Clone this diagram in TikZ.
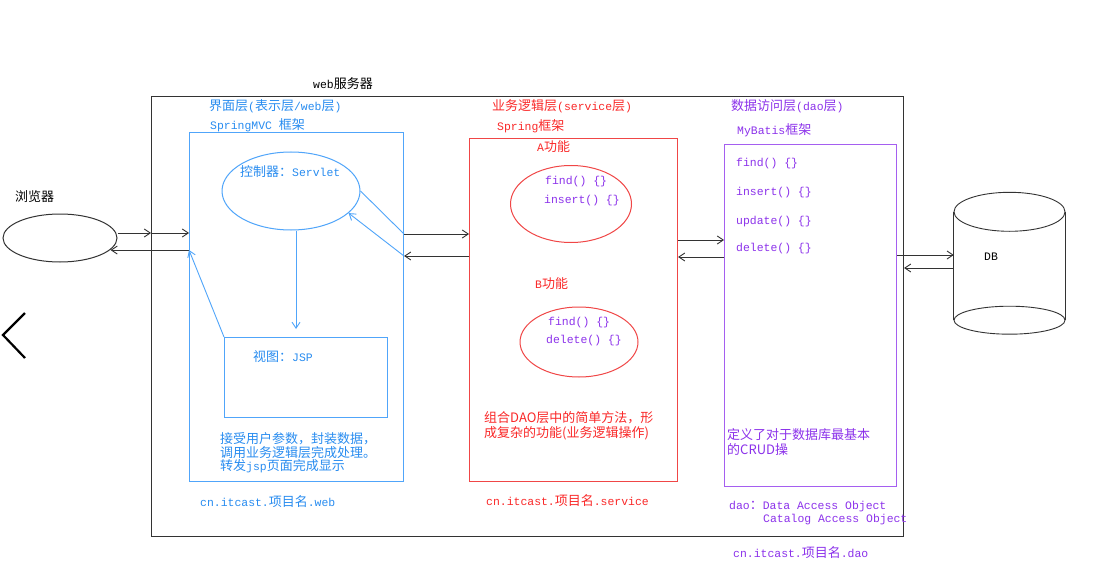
\documentclass[tikz,border=0pt]{standalone}
\usepackage{fontspec}
\setmainfont{Noto Sans CJK SC}
\newfontfamily\monof{Liberation Mono}[Scale=0.88]
\newcommand\mm[1]{{\monof #1}}
\usetikzlibrary{arrows.meta,shapes.geometric}
\definecolor{bline}{RGB}{80,165,250}
\definecolor{btext}{RGB}{40,140,240}
\definecolor{rline}{RGB}{240,70,70}
\definecolor{rtext}{RGB}{250,40,40}
\definecolor{pline}{RGB}{165,95,240}
\definecolor{ptext}{RGB}{140,50,235}
\begin{document}
\begin{tikzpicture}[x=1pt,y=-1pt,
  box/.style={draw, rectangle, inner sep=0pt, anchor=north west, line width=1pt},
  oval/.style={draw, ellipse, inner sep=0pt, line width=1pt},
  txt/.style={anchor=west, inner sep=0pt, font=\fontsize{13}{14}\selectfont, align=left},
  arr/.style={line width=0.9pt, -{Straight Barb[length=6pt,width=8pt]}},
  plain/.style={line width=0.9pt}]
\useasboundingbox (0,0) rectangle (1103,575);
\fill[white] (0,0) rectangle (1103,575);

% chevron
\draw[line width=2.2pt] (25,313) -- (3,335) -- (25,358);

% boxes
\node[box, draw=black!80, minimum width=752pt, minimum height=440pt] (outer) at (151,96) {};
\node[box, draw=bline, minimum width=214pt, minimum height=349pt] (web) at (189,132) {};
\node[box, draw=rline, minimum width=208pt, minimum height=343pt] (service) at (469,138) {};
\node[box, draw=pline, minimum width=172pt, minimum height=342pt] (dao) at (724,144) {};
\node[box, draw=bline, minimum width=163pt, minimum height=80pt] (jsp) at (224,337) {};

% ellipses
\node[oval, draw=black!80, minimum width=114pt, minimum height=48pt] (browser) at (60,238) {};
\node[oval, draw=bline, minimum width=138pt, minimum height=78pt] (servlet) at (291,191) {};
\node[oval, draw=rline, minimum width=121pt, minimum height=77pt] (funA) at (571,204) {};
\node[oval, draw=rline, minimum width=118pt, minimum height=70pt] (funB) at (579,342) {};

% database cylinder
\node[minimum width=111pt, minimum height=108pt, inner sep=0pt] (db) at (1009.5,266) {};
\draw[line width=0.9pt, black!80] (db.north) ellipse [x radius=55.5pt, y radius=19.5pt];
\draw[line width=0.9pt, black!80] (db.south) ellipse [x radius=55.5pt, y radius=14pt];
\draw[line width=0.9pt, black!80] (db.north west) -- (db.south west);
\draw[line width=0.9pt, black!80] (db.north east) -- (db.south east);

% connectors
\draw[arr, black!80] (browser.east |- 0,233) -- (outer.west |- 0,233);
\draw[arr, black!80] (outer.west |- 0,233) -- (web.west |- 0,233);
\draw[arr, black!80, shorten >=-7pt] (web.west |- 0,250) -- (browser.east |- 0,250);

\draw[plain, bline] (servlet.east) -- (web.east |- 0,234);
\draw[arr, black!80] (web.east |- 0,234) -- (service.west |- 0,234);
\draw[arr, black!80] (service.west |- 0,256) -- (web.east |- 0,256);
\draw[arr, bline] (web.east |- 0,256) -- (servlet.-21);

\draw[arr, bline, shorten >=8pt] (servlet.south -| 296,0) -- (jsp.north -| 296,0);
\draw[arr, bline] (jsp.north west) -- (web.west |- 0,250);

\draw[arr, black!80] (service.east |- 0,240) -- (dao.west |- 0,240);
\draw[arr, black!80] (dao.west |- 0,257) -- (service.east |- 0,257);

\draw[arr, black!80] (dao.east |- 0,255) -- (db.west |- 0,255);
\draw[arr, black!80] (db.west |- 0,268) -- (outer.east |- 0,268);

% black texts
\node[txt] (tserver) at (313,84) {\mm{web}服务器};
\node[txt] (tbrowser) at (15,197) {浏览器};
\node[txt] (tdb) at (984,257) {\mm{DB}};

% blue texts
\begin{scope}[every node/.append style={text=btext}]
\node[txt] (tweb1) at (209,106) {界面层\mm{(}表示层\mm{/web}层\mm{)}};
\node[txt] (tweb2) at (210,125) {\mm{SpringMVC }框架};
\node[txt] (tservlet) at (240,172) {控制器：\mm{Servlet}};
\node[txt] (tjsp) at (253,357) {视图：\mm{JSP}};
\node[txt, font=\fontsize{13}{13.5}\selectfont] (tweb3) at (220,453) {接受用户参数，封装数据，\\调用业务逻辑层完成处理。\\转发\mm{jsp}页面完成显示};
\node[txt] (tweb4) at (200,502) {\mm{cn.itcast.}项目名\mm{.web}};
\end{scope}

% red texts
\begin{scope}[every node/.append style={text=rtext}]
\node[txt] (tsv1) at (492,106) {业务逻辑层\mm{(service}层\mm{)}};
\node[txt] (tsv2) at (497,126) {\mm{Spring}框架};
\node[txt] (tA) at (537,147) {\mm{A}功能};
\node[txt] (tB) at (535,284) {\mm{B}功能};
\node[txt, font=\fontsize{13}{15.5}\selectfont] (tsv3) at (484,426) {组合DAO层中的简单方法，形\\成复杂的功能(业务逻辑操作)};
\node[txt] (tsv4) at (486,501) {\mm{cn.itcast.}项目名\mm{.service}};
\end{scope}

% purple texts
\begin{scope}[every node/.append style={text=ptext}]
\node[txt] (tA1) at (545,182) {\mm{find() \{\}}};
\node[txt] (tA2) at (544,201) {\mm{insert() \{\}}};
\node[txt] (tB1) at (548,323) {\mm{find() \{\}}};
\node[txt] (tB2) at (546,341) {\mm{delete() \{\}}};
\node[txt] (tdao1) at (731,106) {数据访问层\mm{(dao}层\mm{)}};
\node[txt] (tdao2) at (737,130) {\mm{MyBatis}框架};
\node[txt] (tm1) at (736,164) {\mm{find() \{\}}};
\node[txt] (tm2) at (736,193) {\mm{insert() \{\}}};
\node[txt] (tm3) at (736,222) {\mm{update() \{\}}};
\node[txt] (tm4) at (736,249) {\mm{delete() \{\}}};
\node[txt, font=\fontsize{13}{15.5}\selectfont] (tdao3) at (727,442) {定义了对于数据库最基本\\的CRUD操};
\node[txt] (tdao4) at (729,507) {\mm{dao}：\mm{Data Access Object}};
\node[txt] (tdao5) at (763,520) {\mm{Catalog Access Object}};
\node[txt] (tdao6) at (733,553) {\mm{cn.itcast.}项目名\mm{.dao}};
\end{scope}
\end{tikzpicture}
\end{document}
